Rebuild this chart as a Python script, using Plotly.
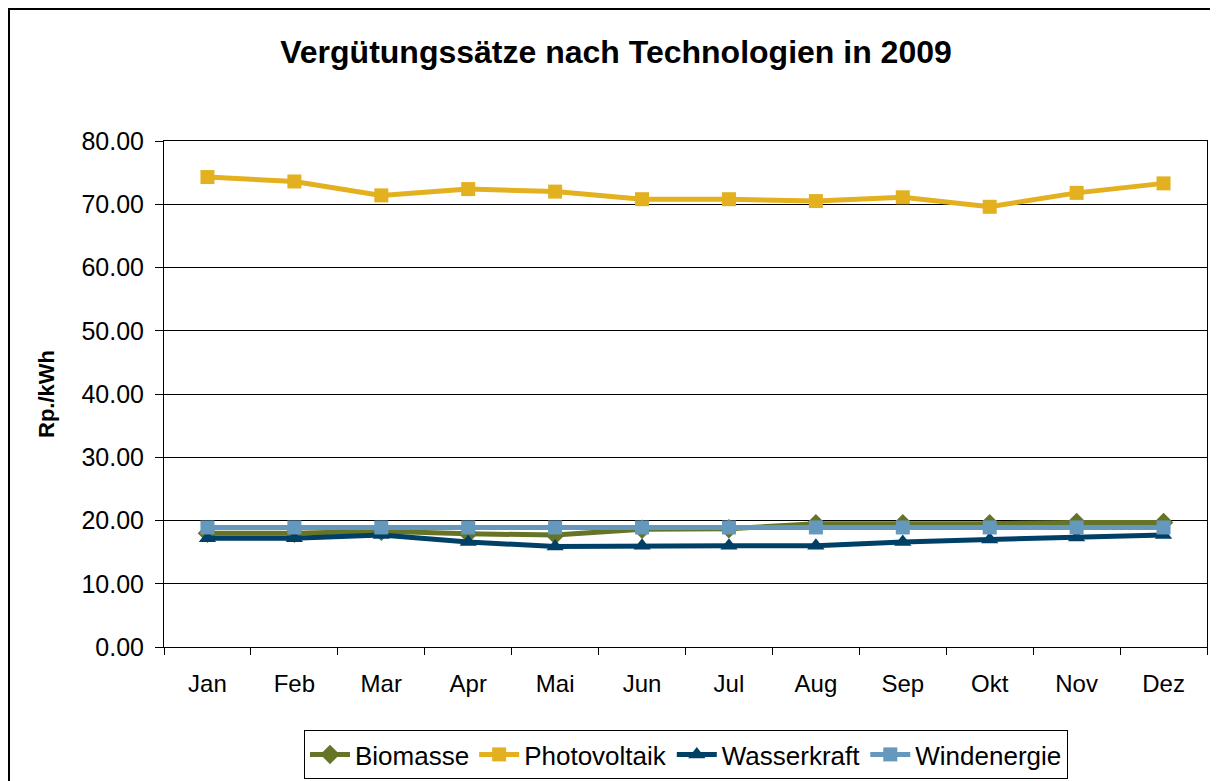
import plotly.graph_objects as go

months = ["Jan", "Feb", "Mar", "Apr", "Mai", "Jun", "Jul", "Aug", "Sep", "Okt", "Nov", "Dez"]
biomasse = [18.0, 18.0, 18.3, 17.9, 17.7, 18.6, 18.7, 19.5, 19.5, 19.5, 19.7, 19.7]
photovoltaik = [74.3, 73.6, 71.4, 72.4, 72.0, 70.8, 70.8, 70.5, 71.1, 69.6, 71.8, 73.3]
wasserkraft = [17.2, 17.2, 17.7, 16.6, 15.9, 16.0, 16.0, 16.0, 16.6, 17.0, 17.3, 17.7]
windenergie = [18.9, 18.9, 18.9, 18.9, 18.9, 18.9, 18.9, 18.9, 18.9, 18.9, 18.9, 18.9]
y_ticks = [0, 10, 20, 30, 40, 50, 60, 70, 80]

series = [
    ("Biomasse", biomasse, "#667428", "diamond", 15),
    ("Photovoltaik", photovoltaik, "#E3B020", "square", 14),
    ("Wasserkraft", wasserkraft, "#003F66", "triangle-up", 15),
    ("Windenergie", windenergie, "#6598BD", "square", 14),
]

fig = go.Figure()
for name, vals, col, sym, size in series:
    fig.add_trace(go.Scatter(
        x=months, y=vals, name=name, mode="lines+markers",
        line=dict(color=col, width=5),
        marker=dict(symbol=sym, size=size, color=col),
    ))

# page body adds an 8px offset; work in figure coordinates
OFF = 8
W, H = 1218 - OFF, 781 - OFF
L, R, T, B = 164 - OFF, 1207 - OFF, 141 - OFF, 647 - OFF
pw, ph = R - L, B - T

def px_to_paper_x(px):
    return (px - OFF - L) / pw

def px_to_paper_y(py):
    return (B - (py - OFF)) / ph

fig.update_layout(
    width=W, height=H,
    margin=dict(l=L, r=W - R, t=T, b=H - B, autoexpand=False),
    paper_bgcolor="white", plot_bgcolor="white",
    font=dict(family="Liberation Sans, Arial, sans-serif", color="black"),
    title=dict(text="<b>Vergütungssätze nach Technologien in 2009</b>",
               x=(616 - OFF) / W, xanchor="center", y=1 - (52 - OFF) / H, yanchor="middle",
               font=dict(size=32, color="black")),
    showlegend=True,
    legend=dict(orientation="h", x=px_to_paper_x(686), xanchor="center",
                y=px_to_paper_y(730), yanchor="top",
                bordercolor="black", borderwidth=1,
                font=dict(size=26), itemwidth=40, traceorder="normal"),
    xaxis=dict(tickmode="array", tickvals=months, ticktext=months,
               tickson="boundaries", ticks="outside", ticklen=7,
               tickcolor="black", showline=True, linecolor="black", linewidth=1,
               mirror=True, showgrid=False, tickfont=dict(size=24),
               ticklabelstandoff=15, automargin=False,
               range=[-0.5, 11.5]),
    yaxis=dict(range=[0, 80], tickvals=y_ticks, tickformat=".2f",
               ticks="outside", ticklen=8, tickcolor="black",
               showline=True, linecolor="black", linewidth=1, mirror=True,
               showgrid=True, gridcolor="black", gridwidth=1,
               zeroline=False, tickfont=dict(size=25),
               ticklabelstandoff=6, automargin=False),
)
fig.update_yaxes(title_text="<b>Rp./kWh</b>", title_font=dict(size=22), title_standoff=20)

fig.add_shape(type="rect", xref="paper", yref="paper",
              x0=px_to_paper_x(9), x1=px_to_paper_x(1240),
              y0=px_to_paper_y(800), y1=px_to_paper_y(9),
              line=dict(color="black", width=2), fillcolor="rgba(0,0,0,0)",
              layer="below")

fig.write_html("out.html")
